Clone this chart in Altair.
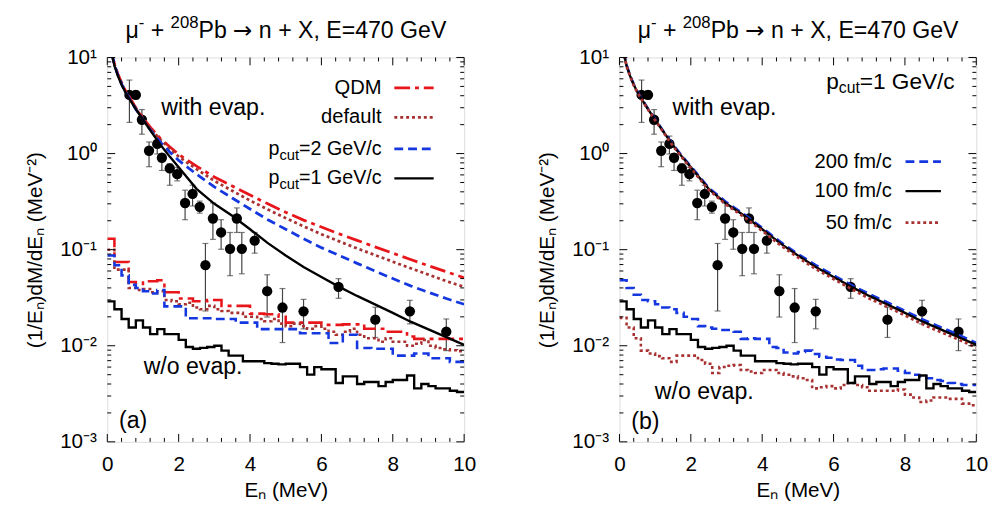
import altair as alt
import pandas as pd

FONT = "Liberation Sans"
W, H = 363, 391

RED = "#e8161b"
BROWN = "#a83232"
BLUE = "#1537e0"
BLACK = "#000000"

# ---------------- data ----------------
# experimental points (same in both panels)
EXP_X = [0.62, 0.80, 0.97, 1.17, 1.40, 1.53, 1.75, 1.96, 2.18, 2.39, 2.59, 2.75, 2.96,
         3.19, 3.44, 3.63, 3.77, 4.13, 4.48, 4.91, 5.50, 6.48, 7.51, 8.48, 9.50]
EXP_Y = [4.08, 4.08, 2.25, 1.07, 1.26, 0.905, 0.70, 0.61, 0.306, 0.381, 0.279, 0.069, 0.211,
         0.151, 0.102, 0.211, 0.102, 0.124, 0.037, 0.025, 0.0228, 0.041, 0.0187, 0.0228, 0.014]
EXP_LO = [2.11, 3.7, 1.59, 0.73, 0.99, 0.667, 0.468, 0.52, 0.205, 0.285, 0.24, 0.023, 0.128,
          0.101, 0.0536, 0.151, 0.0561, 0.092, 0.0199, 0.0108, 0.015, 0.0312, 0.0122, 0.0169, 0.0089]
EXP_HI = [5.82, 4.5, 2.87, 1.32, 1.52, 0.99, 0.785, 0.72, 0.416, 0.468, 0.32, 0.116, 0.306,
          0.205, 0.151, 0.272, 0.151, 0.151, 0.0548, 0.0394, 0.0304, 0.0499, 0.0252, 0.0297, 0.019]

# smooth "with evap." curves
X_CURVE = [0.05, 0.1, 0.2, 0.3, 0.4, 0.5, 0.6, 0.8, 1.0, 1.25, 1.5, 1.75, 2.0, 2.5, 3.0, 3.5,
           4.0, 4.5, 5.0, 5.5, 6.0, 6.5, 7.0, 7.5, 8.0, 8.5, 9.0, 9.5, 10.0]
QDM_EV = [15, 12.5, 8.6, 6.7, 5.5, 4.6, 4.0, 3.0, 2.35, 1.8, 1.42, 1.18, 0.98, 0.74, 0.57, 0.46,
          0.37, 0.30, 0.245, 0.203, 0.172, 0.146, 0.125, 0.107, 0.092, 0.079, 0.068, 0.059, 0.051]
DEF_EV = [15, 12.3, 8.5, 6.6, 5.4, 4.5, 3.9, 2.95, 2.3, 1.75, 1.38, 1.13, 0.93, 0.69, 0.52, 0.41,
          0.325, 0.262, 0.213, 0.175, 0.145, 0.122, 0.103, 0.088, 0.075, 0.064, 0.055, 0.047, 0.041]
P2_EV = [15, 12.2, 8.4, 6.5, 5.3, 4.45, 3.85, 2.9, 2.25, 1.68, 1.3, 1.04, 0.85, 0.61, 0.45, 0.345,
         0.265, 0.205, 0.163, 0.13, 0.105, 0.087, 0.072, 0.06, 0.05, 0.042, 0.036, 0.031, 0.027]
P1_EV = [16, 12, 8.2, 6.4, 5.2, 4.4, 3.8, 2.9, 2.25, 1.65, 1.22, 0.93, 0.72, 0.43, 0.30, 0.225,
         0.163, 0.117, 0.087, 0.066, 0.052, 0.041, 0.033, 0.027, 0.022, 0.0178, 0.0148, 0.0123, 0.0102]
T200_EV = [16, 12.1, 8.3, 6.45, 5.25, 4.45, 3.84, 2.93, 2.27, 1.67, 1.24, 0.945, 0.735, 0.44, 0.31,
           0.232, 0.168, 0.121, 0.09, 0.069, 0.054, 0.0428, 0.0345, 0.0283, 0.023, 0.0187, 0.0156, 0.013, 0.0107]
T100_EV = P1_EV
T50_EV = [16, 11.9, 8.1, 6.35, 5.15, 4.35, 3.76, 2.87, 2.22, 1.63, 1.2, 0.915, 0.705, 0.42, 0.292,
          0.218, 0.157, 0.112, 0.083, 0.063, 0.0495, 0.039, 0.031, 0.0255, 0.0207, 0.0167, 0.0139, 0.0116, 0.0096]

# step histograms "w/o evap." (0.2 MeV bins, 0..10 MeV)
BIN_LEFT = [round(0.2 * i, 1) for i in range(50)]
QDM_WO = [0.13, 0.0745, 0.0745, 0.046, 0.044, 0.047, 0.047, 0.048, 0.036, 0.036,
          0.031, 0.031, 0.029, 0.029, 0.030, 0.030, 0.026, 0.026, 0.026, 0.026,
          0.0216, 0.0216, 0.0213, 0.0213, 0.020, 0.0174, 0.0174, 0.0174, 0.0174, 0.0174,
          0.0165, 0.0165, 0.0165, 0.0167, 0.0167, 0.0167, 0.015, 0.015, 0.015, 0.014,
          0.014, 0.014, 0.0125, 0.0118, 0.0118, 0.0118, 0.0118, 0.0118, 0.0118, 0.0118]
DEF_WO = [0.10, 0.062, 0.062, 0.040, 0.038, 0.039, 0.036, 0.037, 0.030, 0.029,
          0.027, 0.028, 0.025, 0.024, 0.026, 0.024, 0.023, 0.022, 0.022, 0.020,
          0.020, 0.019, 0.018, 0.019, 0.017, 0.016, 0.017, 0.016, 0.015, 0.016,
          0.015, 0.014, 0.013, 0.014, 0.015, 0.013, 0.012, 0.012, 0.011, 0.012,
          0.011, 0.011, 0.010, 0.0105, 0.0115, 0.010, 0.0095, 0.0092, 0.0090, 0.0088]
P2_WO = [0.087, 0.069, 0.054, 0.043, 0.040, 0.037, 0.035, 0.038, 0.0257, 0.0257,
         0.0257, 0.0193, 0.0193, 0.0193, 0.0193, 0.019, 0.019, 0.019, 0.0174, 0.0174,
         0.0174, 0.0149, 0.0149, 0.0149, 0.0149, 0.0149, 0.0149, 0.0135, 0.0135, 0.0135,
         0.0135, 0.0107, 0.0107, 0.013, 0.013, 0.0095, 0.0095, 0.0093, 0.0093, 0.0093,
         0.0079, 0.0079, 0.0079, 0.0083, 0.0083, 0.0074, 0.0074, 0.0074, 0.0068, 0.0068]
P1_WO = [0.029, 0.024, 0.019, 0.0155, 0.0184, 0.0155, 0.0132, 0.0149, 0.0132, 0.0132,
         0.0115, 0.0097, 0.0093, 0.0095, 0.0097, 0.0100, 0.0089, 0.0079, 0.0079, 0.0069,
         0.0069, 0.0069, 0.0066, 0.0065, 0.0064, 0.0065, 0.0065, 0.0060, 0.0050, 0.0060,
         0.0057, 0.0057, 0.0041, 0.0048, 0.0048, 0.0040, 0.0042, 0.0042, 0.0038, 0.0042,
         0.0044, 0.0044, 0.0049, 0.0036, 0.0040, 0.0038, 0.0036, 0.0036, 0.0034, 0.0033]
T200_WO = [0.048, 0.040, 0.034, 0.030, 0.029, 0.027, 0.025, 0.024, 0.022, 0.020,
           0.019, 0.016, 0.0155, 0.015, 0.0146, 0.0146, 0.014, 0.0118, 0.012, 0.0118,
           0.0118, 0.0097, 0.0095, 0.0085, 0.0083, 0.0086, 0.0089, 0.0082, 0.0077, 0.0075,
           0.0072, 0.0071, 0.0071, 0.0062, 0.0056, 0.0056, 0.0057, 0.0058, 0.0058, 0.0055,
           0.0052, 0.0050, 0.0048, 0.0046, 0.0044, 0.0043, 0.0041, 0.0040, 0.0039, 0.0039]
T100_WO = P1_WO
T50_WO = [0.0195, 0.0155, 0.012, 0.0089, 0.0083, 0.0078, 0.0074, 0.0068, 0.0079, 0.0079,
          0.0079, 0.0071, 0.0065, 0.0052, 0.0060, 0.0062, 0.0063, 0.0056, 0.0054, 0.0052,
          0.0056, 0.0056, 0.0052, 0.0050, 0.0048, 0.0046, 0.0044, 0.0036, 0.0037, 0.0038,
          0.0036, 0.0039, 0.0041, 0.0039, 0.0037, 0.0034, 0.0034, 0.0034, 0.0034, 0.0035,
          0.0031, 0.0029, 0.0026, 0.0027, 0.0029, 0.0029, 0.0028, 0.0028, 0.0025, 0.0024]

X_MAJOR = [0, 2, 4, 6, 8, 10]
X_MINOR = [0.4, 0.8, 1.2, 1.6, 2.4, 2.8, 3.2, 3.6, 4.4, 4.8, 5.2, 5.6,
           6.4, 6.8, 7.2, 7.6, 8.4, 8.8, 9.2, 9.6]
Y_MAJOR = [0.001, 0.01, 0.1, 1, 10]
Y_MINOR = [0.002, 0.003, 0.004, 0.005, 0.006, 0.007, 0.008, 0.009,
           0.02, 0.03, 0.04, 0.05, 0.06, 0.07, 0.08, 0.09,
           0.2, 0.3, 0.4, 0.5, 0.6, 0.7, 0.8, 0.9,
           2, 3, 4, 5, 6, 7, 8, 9]

# ---------------- helpers ----------------
XS = alt.Scale(domain=[0, 10], nice=False, zero=False)
YS = alt.Scale(type="log", domain=[0.001, 10], nice=False)

yaxis = alt.Axis(
    values=Y_MAJOR,
    labelExpr="datum.value >= 5 ? '10¹' : datum.value >= 0.5 ? '10⁰' : datum.value >= 0.05 ? '10⁻¹' : datum.value >= 0.005 ? '10⁻²' : '10⁻³'",
    title="(1/Eₙ)dM/dEₙ (MeV⁻²)",
    ticks=False, domain=False, grid=False, labelOverlap=False, labelFlush=False,
    labelFont=FONT, titleFont=FONT, labelFontSize=21, titleFontSize=21,
    titleFontWeight="normal", labelColor="black", titleColor="black",
    labelPadding=11, titlePadding=15,
)
xaxis = alt.Axis(
    values=X_MAJOR, format="d", title="Eₙ (MeV)",
    ticks=False, domain=False, grid=False, labelOverlap=False, labelFlush=False,
    labelFont=FONT, titleFont=FONT, labelFontSize=21, titleFontSize=21,
    titleFontWeight="normal", labelColor="black", titleColor="black",
    labelPadding=12, titlePadding=6,
)


def X(field):
    return alt.X(field, scale=XS, axis=xaxis)


def Y(field):
    return alt.Y(field, scale=YS, axis=yaxis)


def curve_df(vals):
    return pd.DataFrame({"x": X_CURVE, "y": vals})


def step_df(vals):
    return pd.DataFrame({"x": BIN_LEFT + [10.0], "y": list(vals) + [vals[-1]]})


def line(df, color, dash=None, width=2.8, step=False):
    kw = dict(color=color, strokeWidth=width, clip=True, strokeCap="butt")
    if dash:
        kw["strokeDash"] = dash
    if step:
        kw["interpolate"] = "step-after"
    return alt.Chart(df).mark_line(**kw).encode(x=X("x:Q"), y=Y("y:Q"))


def ticks():
    layers = []
    for vals, ln in ((X_MAJOR, 8), (X_MINOR, 4)):
        base = alt.Chart(pd.DataFrame({"x": vals})).mark_rule(color="black", strokeWidth=1)
        layers.append(base.encode(x=X("x:Q"), y=alt.value(H), y2=alt.value(H - ln)))
        layers.append(base.encode(x=X("x:Q"), y=alt.value(0), y2=alt.value(ln)))
    for vals, ln in ((Y_MAJOR, 8), (Y_MINOR, 4)):
        base = alt.Chart(pd.DataFrame({"y": vals})).mark_rule(color="black", strokeWidth=1)
        layers.append(base.encode(y=Y("y:Q"), x=alt.value(0), x2=alt.value(ln)))
        layers.append(base.encode(y=Y("y:Q"), x=alt.value(W), x2=alt.value(W - ln)))
    return layers


def label(text, x, y, size=20, align="left", font=FONT):
    return alt.Chart(pd.DataFrame({"t": [text]})).mark_text(
        font=font, fontSize=size, align=align, baseline="middle", color="black"
    ).encode(text="t:N", x=alt.value(x), y=alt.value(y))


def sub_label(main, sub, xr, y, size=20, subsize=15):
    # right-aligned "p" + subscript + main text
    w_main = 4.197 * size
    w_sub = 1.334 * subsize
    return [
        label(main, xr, y, size, "right"),
        label(sub, xr - w_main, y + 6, subsize, "right"),
        label("p", xr - w_main - w_sub, y, size, "right"),
    ]


def panel_title():
    # "μ⁻ + ²⁰⁸Pb → n + X, E=470 GeV" with real superscripts
    s, ss, y = 23.5, 17, -27
    x0 = W / 2 - 163
    return [
        label("μ", x0, y, s),
        label("-", x0 + 13.5, y - 8, ss),
        label("+", x0 + 25.7, y, s),
        label("208", x0 + 45.9, y - 8, ss),
        label("Pb", x0 + 74.3, y, s),
        label("→", x0 + 109.5, y, s, font="DejaVu Sans"),
        label("n + X, E=470 GeV", x0 + 135.7, y, s),
    ]


def sample(color, dash, x1, x2, y, width=2.8):
    kw = dict(color=color, strokeWidth=width, strokeCap="butt")
    if dash:
        kw["strokeDash"] = dash
    return alt.Chart(pd.DataFrame({"a": [0]})).mark_rule(**kw).encode(
        x=alt.value(x1), x2=alt.value(x2), y=alt.value(y)
    )


exp_df = pd.DataFrame({"x": EXP_X, "y": EXP_Y, "lo": EXP_LO, "hi": EXP_HI})


def exp_layers():
    base = alt.Chart(exp_df)
    bars = base.mark_rule(color="#444444", strokeWidth=1.2).encode(
        x=X("x:Q"), y=Y("lo:Q"), y2="hi:Q")
    cap_lo = base.mark_tick(color="#444444", orient="horizontal", size=6, thickness=1.2).encode(
        x=X("x:Q"), y=Y("lo:Q"))
    cap_hi = base.mark_tick(color="#444444", orient="horizontal", size=6, thickness=1.2).encode(
        x=X("x:Q"), y=Y("hi:Q"))
    pts = base.mark_circle(color="black", size=110, opacity=1).encode(x=X("x:Q"), y=Y("y:Q"))
    return [bars, cap_lo, cap_hi, pts]


DASHDOT = [16, 5, 4, 5]
DOT = [3, 3]
DASH = [9, 5]

# ---------------- left panel ----------------
left_layers = exp_layers() + [
    line(step_df(QDM_WO), RED, DASHDOT, 2.6, True),
    line(step_df(DEF_WO), BROWN, DOT, 2.6, True),
    line(step_df(P2_WO), BLUE, DASH, 2.6, True),
    line(step_df(P1_WO), BLACK, None, 2.4, True),
    line(curve_df(QDM_EV), RED, DASHDOT),
    line(curve_df(DEF_EV), BROWN, DOT),
    line(curve_df(P2_EV), BLUE, DASH),
    line(curve_df(P1_EV), BLACK, None, 2.4),
] + ticks() + [
    label("QDM", 279, 31, 20.5, "right"), label("default", 279, 61, 20.5, "right"),
    label("with evap.", 55, 51, 23.5), label("w/o evap.", 37, 315, 23.5), label("(a)", 12, 370, 23.5),
    sample(RED, DASHDOT, 292, 332, 31),
    sample(BROWN, DOT, 292, 332, 61),
    sample(BLUE, DASH, 292, 332, 93),
    sample(BLACK, None, 292, 332, 123, 2.4),
] + sub_label("=2 GeV/c", "cut", 279, 93) + sub_label("=1 GeV/c", "cut", 279, 123) + panel_title()

left = alt.layer(*left_layers).properties(width=W, height=H)

# ---------------- right panel ----------------
right_layers = exp_layers() + [
    line(step_df(T200_WO), BLUE, DASH, 2.6, True),
    line(step_df(T50_WO), BROWN, DOT, 2.6, True),
    line(step_df(T100_WO), BLACK, None, 2.4, True),
    line(curve_df(T200_EV), BLUE, DASH),
    line(curve_df(T100_EV), BLACK, None, 2.4),
    line(curve_df(T50_EV), BROWN, DOT),
] + ticks() + [
    label("with evap.", 54, 51, 23.5), label("w/o evap.", 36, 340, 23.5), label("(b)", 12, 371, 23.5),
    label("200 fm/c", 277, 106, 20.5, "right"),
    label("100 fm/c", 277, 136, 20.5, "right"),
    label("50 fm/c", 277, 168, 20.5, "right"),
    sample(BLUE, DASH, 291, 327, 106),
    sample(BLACK, None, 291, 327, 136, 2.4),
    sample(BROWN, DOT, 291, 327, 168),
] + sub_label("=1 GeV/c", "cut", 341, 25, 23, 16) + panel_title()

right = alt.layer(*right_layers).properties(width=W, height=H)

chart = alt.hconcat(left, right, spacing=60).properties(
    padding={"left": 16, "top": 1, "right": 5, "bottom": 5}
).configure_view(
    stroke="black", strokeWidth=1.6
).configure(background="white")

chart.save("out.html", embed_options={"renderer": "svg", "actions": False})
